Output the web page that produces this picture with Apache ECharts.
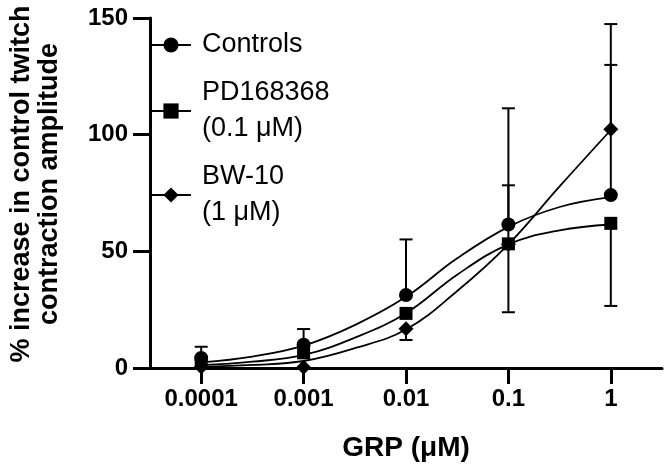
<!DOCTYPE html>
<html>
<head>
<meta charset="utf-8">
<script src="https://cdn.jsdelivr.net/npm/echarts@6/dist/echarts.min.js"></script>
<style>html,body{margin:0;padding:0;background:#fff}#c{width:665px;height:468px}</style>
</head>
<body>
<div id="c"></div>
<script>
// ---- data ----
const doses = [0.0001, 0.001, 0.01, 0.1, 1];
const xTicks = [0.0001, 0.001, 0.01, 0.1, 1];
const xTickLabels = ['0.0001', '0.001', '0.01', '0.1', '1'];
const yTicks = [0, 50, 100, 150];

const controlsMean = [4.3, 10, 31.3, 61.5, 74.1];
const pdMean = [2.5, 6.5, 23.4, 53.2, 62];
const bwMean = [0.4, 0.3, 16.8, 53, 102.3];

// error bar end values (null = not visible)
const controlsErrEnd = [9.1, 16.7, 55.1, 111.3, 129.9];
const pdErrEnd = [null, null, null, 23.9, 26.6];
const bwErrEnd = [null, null, 12, 78.3, 147.4];

// fitted curves
const fitDoses = [0.0001, 0.000316, 0.001, 0.00316, 0.01, 0.0316, 0.1, 0.316, 1];
const controlsFit = [2.4, 4.9, 9.6, 18.4, 30.5, 47, 60.5, 69, 73.2];
const pdFit = [1.2, 2.7, 5.6, 13, 23.5, 40, 53, 59, 61.5];
const bwFit = [0.5, 1.3, 3, 8.5, 16.5, 33, 53, 77.8, 102];

const names = ['Controls', 'PD168368\n(0.1 μM)', 'BW-10\n(1 μM)'];
const symbols = ['circle', 'rect', 'diamond'];
const symbolSizes = [14, 13, 15];

// ---- chart ----
const FONT = '"Liberation Sans", Arial, Helvetica, sans-serif';
const chart = echarts.init(document.getElementById('c'), null, {renderer: 'canvas'});

function pairs(xs, ys) { return xs.map((x, i) => [x, ys[i]]); }
function errData(xs, means, ends) {
  const out = [];
  xs.forEach((x, i) => { if (ends[i] != null) out.push([x, means[i], ends[i]]); });
  return out;
}

const fits = [controlsFit, pdFit, bwFit];
const means = [controlsMean, pdMean, bwMean];
const errs = [controlsErrEnd, pdErrEnd, bwErrEnd];

const series = [];
fits.forEach((f, k) => {
  series.push({
    name: names[k], type: 'line', data: pairs(fitDoses, f),
    smooth: 0.4, showSymbol: false,
    symbol: symbols[k], symbolSize: symbolSizes[k],
    lineStyle: {color: '#000', width: 1.8},
    itemStyle: {color: '#000', opacity: 1},
    z: 2, silent: true
  });
});
errs.forEach((e, k) => {
  series.push({
    name: 'err' + k, type: 'custom', data: errData(doses, means[k], e),
    encode: {x: 0, y: [1, 2]},
    renderItem: function (params, api) {
      const p0 = api.coord([api.value(0), api.value(1)]);
      const p1 = api.coord([api.value(0), api.value(2)]);
      const hw = 6.5;
      return {
        type: 'group',
        children: [
          {type: 'line', shape: {x1: p0[0], y1: p0[1], x2: p1[0], y2: p1[1]}, style: {stroke: '#000', lineWidth: 2}},
          {type: 'line', shape: {x1: p1[0] - hw, y1: p1[1], x2: p1[0] + hw, y2: p1[1]}, style: {stroke: '#000', lineWidth: 2}}
        ]
      };
    },
    z: 3, silent: true
  });
});
means.forEach((m, k) => {
  series.push({
    name: 'pts' + k, type: 'scatter', data: pairs(doses, m),
    symbol: symbols[k], symbolSize: symbolSizes[k],
    itemStyle: {color: '#000', opacity: 1}, z: 4, silent: true
  });
});

chart.setOption({
  animation: false,
  backgroundColor: '#fff',
  textStyle: {fontFamily: FONT},
  grid: {left: 137, right: 3, top: 18, bottom: 100, containLabel: false},
  legend: {
    data: names, orient: 'vertical', left: 145, top: 22,
    itemWidth: 40, itemHeight: 19, itemGap: 12,
    selectedMode: false,
    textStyle: {fontFamily: FONT, fontSize: 27, color: '#000', lineHeight: 36, padding: [0, 0, 0, 6]}
  },
  xAxis: {
    type: 'log', logBase: 10,
    min: 3.1623e-5, max: 3.1623,
    name: 'GRP (μM)', nameLocation: 'middle', nameGap: 66,
    nameTextStyle: {fontFamily: FONT, fontSize: 28, fontWeight: 'bold', color: '#000'},
    axisLine: {lineStyle: {color: '#000', width: 3}},
    axisTick: {show: true, length: 16, lineStyle: {color: '#000', width: 3}, customValues: xTicks},
    axisLabel: {
      customValues: xTicks,
      formatter: function (v) { const i = xTicks.findIndex(t => Math.abs(Math.log10(t) - Math.log10(v)) < 1e-6); return i >= 0 ? xTickLabels[i] : ''; },
      fontFamily: FONT, fontSize: 24, fontWeight: 'bold', color: '#000', margin: 19
    },
    splitLine: {show: false}, minorTick: {show: false}
  },
  yAxis: {
    type: 'value', min: 0, max: 150, interval: 50,
    name: '% increase in control twitch\ncontraction amplitude',
    nameLocation: 'middle', nameGap: 86, nameRotate: 90,
    nameTextStyle: {fontFamily: FONT, fontSize: 27, fontWeight: 'bold', color: '#000', lineHeight: 28, padding: [0, 0, 0, 18]},
    axisLine: {show: true, lineStyle: {color: '#000', width: 3}},
    axisTick: {show: true, length: 17, lineStyle: {color: '#000', width: 3}},
    axisLabel: {fontFamily: FONT, fontSize: 24, fontWeight: 'bold', color: '#000', margin: 22,
      formatter: function (v) { return yTicks.indexOf(v) >= 0 ? String(v) : ''; }},
    splitLine: {show: false}
  },
  series: series
});
</script>
</body>
</html>
